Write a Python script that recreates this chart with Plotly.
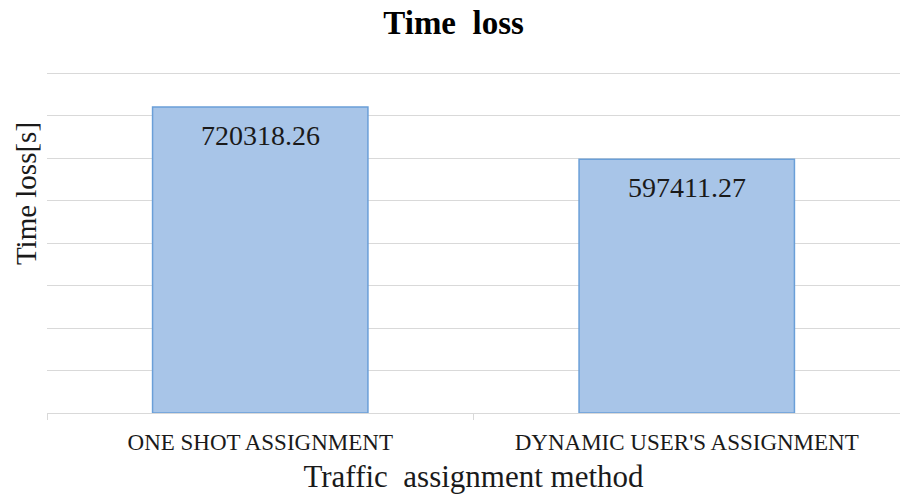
import plotly.graph_objects as go

# Chart data
methods = ["ONE SHOT ASSIGNMENT", "DYNAMIC USER'S ASSIGNMENT"]
time_loss = [720318.26, 597411.27]
labels = ["720318.26", "597411.27"]

SERIF = "Liberation Serif, Times New Roman, serif"

fig = go.Figure()
fig.add_trace(go.Bar(
    x=methods,
    y=time_loss,
    width=0.505,
    marker=dict(color="#a8c5e8", line=dict(color="#6a9fd8", width=1.5)),
    hoverinfo="x+y",
))

# Value labels inside the bars, just under the top edge
for m, v, t in zip(methods, time_loss, labels):
    fig.add_annotation(
        x=m, y=v, text=t, showarrow=False,
        yanchor="top", yshift=-11,
        font=dict(family=SERIF, size=28, color="#1a1a1a"),
    )

# y title sits above the middle of the axis in the original, so place it by hand
fig.add_annotation(
    text="Time loss[s]", textangle=-90, showarrow=False,
    xref="paper", yref="paper", x=0, y=0.64,
    xanchor="center", yanchor="middle", xshift=-21,
    font=dict(family=SERIF, size=29, color="#1a1a1a"),
)

fig.update_layout(
    width=900, height=495,
    margin=dict(l=47, r=0, t=71, b=82),
    paper_bgcolor="white",
    plot_bgcolor="white",
    showlegend=False,
    font=dict(family=SERIF, color="#1a1a1a"),
    title=dict(
        text="<b>Time  loss</b>",
        x=0.504, xanchor="center", y=0.955, yanchor="middle",
        font=dict(family=SERIF, size=33, color="#000000"),
    ),
    xaxis=dict(
        title=dict(text="Traffic  assignment method", standoff=11,
                   font=dict(family=SERIF, size=31)),
        tickfont=dict(family=SERIF, size=23),
        showline=True, linecolor="#d9d9d9", linewidth=1,
        ticks="outside", tickson="boundaries", ticklen=6, tickcolor="#d9d9d9",
        ticklabelstandoff=8,
        showgrid=False,
        automargin=False,
    ),
    yaxis=dict(
        range=[0, 805000],
        dtick=100000,
        showticklabels=False,
        showgrid=True, gridcolor="#d9d9d9", gridwidth=1,
        zeroline=False,
        automargin=False,
    ),
)

# drop the default page margin so the figure fills the window exactly
fig.write_html("out.html", config={"displayModeBar": False},
               post_script="document.body.style.margin='0';")
